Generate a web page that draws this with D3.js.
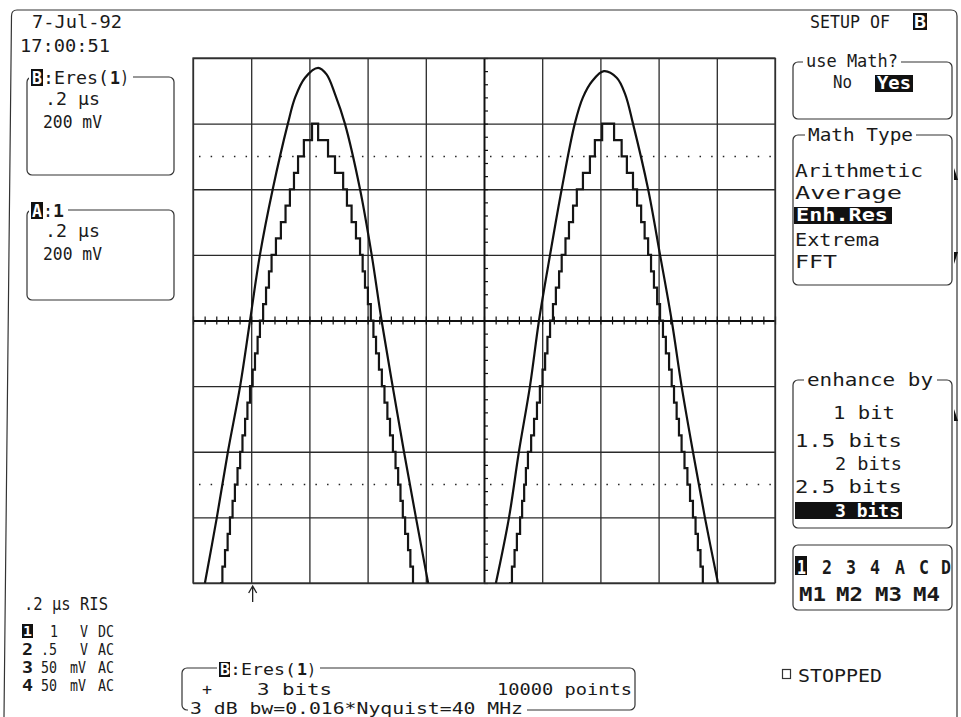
<!DOCTYPE html>
<html>
<head>
<meta charset="utf-8">
<script src="https://cdn.jsdelivr.net/npm/d3@7"></script>
<style>
  body { margin: 0; background: #fff; }
  text { font-family: "DejaVu Sans Mono", "Liberation Mono", monospace; font-size: 18px; fill: #1a1a1a; }
</style>
</head>
<body>
<div id="chart"></div>
<script>
// time axis (us) and voltage axis (V), 0.2 us/div and 200 mV/div
const timeGrid = [0, 0.2, 0.4, 0.6, 0.8, 1.0, 1.2, 1.4, 1.6, 1.8, 2.0]
const voltGrid = [-0.8, -0.6, -0.4, -0.2, 0, 0.2, 0.4, 0.6, 0.8]
const dottedLevels = [-0.5, 0.5]
const triggerTime = 0.205

// channel A : raw input, [time us, volts]
const smoothCycle1 = [[0.041,-0.80],[0.082,-0.60],[0.120,-0.40],[0.162,-0.20],[0.196,0.00],[0.230,0.20],[0.274,0.40],[0.326,0.60],[0.351,0.68],[0.385,0.74],[0.430,0.77],[0.459,0.75],[0.488,0.69],[0.522,0.60],[0.574,0.40],[0.614,0.20],[0.648,0.00],[0.686,-0.20],[0.725,-0.40],[0.766,-0.60],[0.808,-0.80]]
const smoothCycle2 = [[1.041,-0.80],[1.086,-0.60],[1.120,-0.40],[1.158,-0.20],[1.189,0.00],[1.227,0.20],[1.267,0.40],[1.312,0.60],[1.340,0.68],[1.372,0.73],[1.412,0.76],[1.456,0.74],[1.485,0.69],[1.512,0.60],[1.564,0.40],[1.605,0.20],[1.645,0.00],[1.679,-0.20],[1.718,-0.40],[1.759,-0.60],[1.804,-0.80]]

// trace B : Eres(1), 3 bits, staircase levels [time us, volts]
const eresCycle1 = [[0.093,-0.80],[0.101,-0.75],[0.110,-0.70],[0.119,-0.65],[0.127,-0.60],[0.136,-0.55],[0.144,-0.50],[0.153,-0.45],[0.162,-0.40],[0.170,-0.35],[0.179,-0.30],[0.187,-0.25],[0.196,-0.20],[0.205,-0.15],[0.213,-0.10],[0.222,-0.05],[0.230,0.00],[0.241,0.05],[0.251,0.10],[0.261,0.15],[0.270,0.20],[0.285,0.25],[0.302,0.30],[0.318,0.35],[0.333,0.40],[0.347,0.45],[0.361,0.50],[0.381,0.55],[0.409,0.60],[0.430,0.55],[0.464,0.50],[0.488,0.45],[0.516,0.40],[0.529,0.35],[0.545,0.30],[0.560,0.25],[0.574,0.20],[0.583,0.15],[0.591,0.10],[0.601,0.05],[0.611,0.00],[0.620,-0.05],[0.629,-0.10],[0.639,-0.15],[0.649,-0.20],[0.658,-0.25],[0.668,-0.30],[0.677,-0.35],[0.687,-0.40],[0.696,-0.45],[0.705,-0.50],[0.713,-0.55],[0.721,-0.60],[0.729,-0.65],[0.739,-0.70],[0.747,-0.75],[0.756,-0.80]]
const eresCycle2 = [[1.086,-0.80],[1.096,-0.75],[1.105,-0.70],[1.113,-0.65],[1.124,-0.60],[1.131,-0.55],[1.138,-0.50],[1.144,-0.45],[1.151,-0.40],[1.162,-0.35],[1.172,-0.30],[1.182,-0.25],[1.192,-0.20],[1.201,-0.15],[1.210,-0.10],[1.218,-0.05],[1.227,0.00],[1.237,0.05],[1.247,0.10],[1.258,0.15],[1.267,0.20],[1.280,0.25],[1.292,0.30],[1.306,0.35],[1.319,0.40],[1.340,0.45],[1.364,0.50],[1.381,0.55],[1.406,0.60],[1.447,0.55],[1.473,0.50],[1.491,0.45],[1.512,0.40],[1.526,0.35],[1.540,0.30],[1.552,0.25],[1.564,0.20],[1.574,0.15],[1.584,0.10],[1.595,0.05],[1.605,0.00],[1.615,-0.05],[1.625,-0.10],[1.636,-0.15],[1.645,-0.20],[1.653,-0.25],[1.662,-0.30],[1.670,-0.35],[1.679,-0.40],[1.689,-0.45],[1.699,-0.50],[1.708,-0.55],[1.718,-0.60],[1.727,-0.65],[1.735,-0.70],[1.744,-0.75],[1.752,-0.80]]

// menu texts
const mathTypes = ['Arithmetic', 'Average', 'Enh.Res', 'Extrema', 'FFT']
const enhanceBy = ['1 bit', '1.5 bits', '2 bits', '2.5 bits', '3 bits']
const channelKeys = ['1', '2', '3', '4', 'A', 'C', 'D']
const memoryKeys = ['M1', 'M2', 'M3', 'M4']
const chanNum = ['1', '2', '3', '4']
const chanVolts = ['1', '.5', '50', '50']
const chanUnits = ['V', 'V', 'mV', 'mV']
const chanCoupling = ['DC', 'AC', 'AC', 'AC']

const w = 961
const h = 717
const p = { left: 193, right: 775, top: 58, bottom: 583 }

const svg = d3.select('#chart').append('svg')
    .attr('width', w)
    .attr('height', h)

const xScale = d3.scaleLinear().domain([0, 2]).range([p.left, p.right])
const yScale = d3.scaleLinear().domain([-0.8, 0.8]).range([p.bottom, p.top])

// text helper, widths taken from the screen
function label(x, y, str, width, opts) {
    opts = opts || {}
    const t = svg.append('text')
        .attr('x', x).attr('y', y)
        .text(str)
    if (width) t.attr('textLength', width).attr('lengthAdjust', 'spacingAndGlyphs')
    if (opts.bold) t.attr('font-weight', 'bold')
    if (opts.size) t.style('font-size', opts.size + 'px')
    if (opts.fill) t.style('fill', opts.fill)
    return t
}

// inverted (white on black) label
function invLabel(x0, y0, x1, y1, tx, ty, str, width, opts) {
    svg.append('rect').attr('x', x0).attr('y', y0)
        .attr('width', x1 - x0).attr('height', y1 - y0).attr('fill', '#111')
    return label(tx, ty, str, width, Object.assign({ fill: '#fff', bold: true }, opts || {}))
}

// rounded menu box
function panel(x0, y0, x1, y1) {
    svg.append('rect').attr('x', x0).attr('y', y0)
        .attr('width', x1 - x0).attr('height', y1 - y0)
        .attr('rx', 5)
        .attr('fill', 'none').attr('stroke', '#333').attr('stroke-width', 1.2)
}

function gap(x0, y0, x1, y1) {
    svg.append('rect').attr('x', x0).attr('y', y0)
        .attr('width', x1 - x0).attr('height', y1 - y0).attr('fill', '#fff')
}

// outer screen frame
svg.append('path')
    .attr('d', 'M4,717 L11.5,16 Q11.5,10 17,10 H951 Q957,10 957,16 V717')
    .attr('fill', 'none').attr('stroke', '#333').attr('stroke-width', 1.2)

// grid via axes
svg.append('g')
    .attr('transform', 'translate(0,' + p.bottom + ')')
    .call(d3.axisBottom(xScale).tickValues(timeGrid).tickSize(-(p.bottom - p.top)).tickFormat(''))
    .call(g => g.select('.domain').remove())
    .call(g => g.selectAll('line').attr('stroke', '#2a2a2a').attr('stroke-width', 1.3))

svg.append('g')
    .attr('transform', 'translate(' + p.left + ',0)')
    .call(d3.axisLeft(yScale).tickValues(voltGrid).tickSize(-(p.right - p.left)).tickFormat(''))
    .call(g => g.select('.domain').remove())
    .call(g => g.selectAll('line').attr('stroke', '#2a2a2a').attr('stroke-width', 1.3))

// dotted lines
svg.selectAll('.dotted')
    .data(dottedLevels)
    .enter()
    .append('line')
    .attr('x1', p.left + 6).attr('x2', p.right)
    .attr('y1', d => yScale(d)).attr('y2', d => yScale(d))
    .attr('stroke', '#222').attr('stroke-width', 1.5)
    .attr('stroke-dasharray', '1.5,10.14')

// center axes with minor ticks
const minorT = d3.range(0, 2.0001, 0.04)
const minorV = d3.range(-0.8, 0.8001, 0.04)

svg.append('g')
    .attr('transform', 'translate(0,' + yScale(0) + ')')
    .call(d3.axisBottom(xScale).tickValues(minorT).tickSize(4).tickFormat('').tickSizeOuter(0))
    .call(g => g.select('.domain').attr('stroke', '#111').attr('stroke-width', 1.8))
    .call(g => g.selectAll('.tick line').attr('y1', -4).attr('stroke', '#111').attr('stroke-width', 1.2))

svg.append('g')
    .attr('transform', 'translate(' + xScale(1) + ',0)')
    .call(d3.axisLeft(yScale).tickValues(minorV).tickSize(4).tickFormat('').tickSizeOuter(0))
    .call(g => g.select('.domain').attr('stroke', '#111').attr('stroke-width', 1.8))
    .call(g => g.selectAll('.tick line').attr('x2', 4).attr('stroke', '#111').attr('stroke-width', 1.2))

// plot border
svg.append('rect')
    .attr('x', p.left).attr('y', p.top)
    .attr('width', p.right - p.left).attr('height', p.bottom - p.top)
    .attr('fill', 'none').attr('stroke', '#333').attr('stroke-width', 1.3)

// traces
svg.append('clipPath').attr('id', 'clip')
    .append('rect')
    .attr('x', p.left).attr('y', p.top)
    .attr('width', p.right - p.left).attr('height', p.bottom - p.top)

const smoothLine = d3.line()
    .x(d => xScale(d[0]))
    .y(d => yScale(d[1]))
    .curve(d3.curveCatmullRom.alpha(0.5))

const stepLine = d3.line()
    .x(d => xScale(d[0]))
    .y(d => yScale(d[1]))
    .curve(d3.curveStepAfter)

const traces = svg.append('g').attr('clip-path', 'url(#clip)')

traces.selectAll('.eres')
    .data([eresCycle1, eresCycle2])
    .enter()
    .append('path')
    .attr('d', stepLine)
    .attr('fill', 'none').attr('stroke', '#151515').attr('stroke-width', 2.2)

traces.selectAll('.raw')
    .data([smoothCycle1, smoothCycle2])
    .enter()
    .append('path')
    .attr('d', smoothLine)
    .attr('fill', 'none').attr('stroke', '#111').attr('stroke-width', 2.2)

// trigger marker
const tx = xScale(triggerTime)
svg.append('path')
    .attr('d', 'M' + tx + ',602 V587 M' + (tx - 4) + ',593 L' + tx + ',586 L' + (tx + 4) + ',593')
    .attr('fill', 'none').attr('stroke', '#222').attr('stroke-width', 1.3)

// ---- left side ----
label(32, 28, '7-Jul-92', 90)
label(20, 52, '17:00:51', 90)

panel(27, 77, 174, 175)
gap(29, 68, 133, 87)
invLabel(31, 69, 43, 86, 32, 84, 'B', 10)
label(43, 84, ':Eres(', 66)
label(110, 84, '1', 10, { bold: true })
label(120, 84, ')', 9)
label(45, 105, '.2 \u00b5s', 55)
label(43, 128, '200 mV', 59)

panel(27, 210, 174, 300)
gap(29, 201, 68, 219)
invLabel(31, 202, 43, 219, 32, 217, 'A', 10)
label(43, 217, ':', 10)
label(53, 217, '1', 11, { bold: true })
label(45, 237, '.2 \u00b5s', 55)
label(43, 260, '200 mV', 59)

// channel table
label(24, 610, '.2 \u00b5s RIS', 84)
chanNum.forEach((c, i) => {
    const by = 637 + i * 18
    if (i === 0) {
        svg.append('rect').attr('x', 22).attr('y', by - 13).attr('width', 11).attr('height', 14).attr('fill', '#111')
        label(23, by - 1, c, 9, { fill: '#fff', bold: true, size: 14 })
    } else {
        label(22, by, c, 11, { bold: true, size: 16 })
    }
    label(chanVolts[i].length > 1 ? 41 : 50, by, chanVolts[i], chanVolts[i].length * 8, { size: 15 })
    label(chanUnits[i] === 'V' ? 80 : 70, by, chanUnits[i], chanUnits[i].length * 8, { size: 15 })
    label(98, by, chanCoupling[i], 16, { size: 15 })
})

// ---- right side ----
label(810, 28, 'SETUP OF', 80)
invLabel(913, 13, 927, 30, 914, 28, 'B', 12)

panel(793, 62, 952, 119)
gap(803, 52, 901, 70)
label(806, 67, 'use Math?', 92)
label(833, 88, 'No', 19)
invLabel(875, 75, 913, 92, 877, 89, 'Yes', 34)

panel(793, 135, 952, 285)
gap(805, 125, 916, 144)
label(808, 141, 'Math Type', 105)
const mathW = [128, 107, 92, 85, 42]
const mathY = [177, 199, 221, 246, 268]
mathTypes.forEach((m, i) => {
    if (m === 'Enh.Res') invLabel(794, 207, 892, 224, 796, mathY[i], m, mathW[i])
    else label(795, mathY[i], m, mathW[i])
})

// scroll marks
svg.append('path').attr('d', 'M954,168 L958,180 L954,180 Z').attr('fill', '#111')
svg.append('path').attr('d', 'M954,252 L958,252 L954,264 Z').attr('fill', '#111')
svg.append('path').attr('d', 'M954,409 L958,421 L954,421 Z').attr('fill', '#111')

panel(793, 380, 952, 528)
gap(804, 371, 937, 390)
label(807, 386, 'enhance by', 126)
const enhX = [833, 795, 835, 795, 835]
const enhW = [62, 107, 67, 107, 65]
const enhY = [419, 447, 470, 493, 517]
enhanceBy.forEach((e, i) => {
    if (i === enhanceBy.length - 1) invLabel(795, 502, 902, 519, enhX[i], enhY[i], e, enhW[i])
    else label(enhX[i], enhY[i], e, enhW[i])
})

panel(793, 545, 952, 610)
const keyX = [796, 822, 846, 870, 895, 919, 941]
channelKeys.forEach((k, i) => {
    if (i === 0) {
        svg.append('rect').attr('x', 795).attr('y', 556).attr('width', 12).attr('height', 19)
            .attr('fill', '#111')
        label(keyX[i] + 1, 574, k, 9, { fill: '#fff', bold: true, size: 20 })
    } else {
        label(keyX[i], 574, k, 10, { bold: true, size: 20 })
    }
})
const memX = [799, 836, 875, 913]
memoryKeys.forEach((m, i) => label(memX[i], 601, m, 27, { bold: true, size: 20 }))

svg.append('rect').attr('x', 782.5).attr('y', 669.5).attr('width', 8).attr('height', 9)
    .attr('fill', 'none').attr('stroke', '#333').attr('stroke-width', 1.2)
label(798, 682, 'STOPPED', 84)

// ---- bottom box ----
panel(182, 668, 635, 710)
gap(217, 659, 320, 677)
invLabel(219, 662, 230, 677, 220, 675, 'B', 10, { size: 16 })
label(230, 675, ':Eres(', 66, { size: 16 })
label(297, 675, '1', 10, { bold: true, size: 16 })
label(307, 675, ')', 9, { size: 16 })
label(202, 695, '+', 10, { size: 16 })
label(257, 695, '3 bits', 75, { size: 16 })
label(497, 695, '10000 points', 135, { size: 16 })
gap(188, 704, 527, 717)
label(190, 714, '3 dB bw=0.016*Nyquist=40 MHz', 333, { size: 15 })
</script>
</body>
</html>
